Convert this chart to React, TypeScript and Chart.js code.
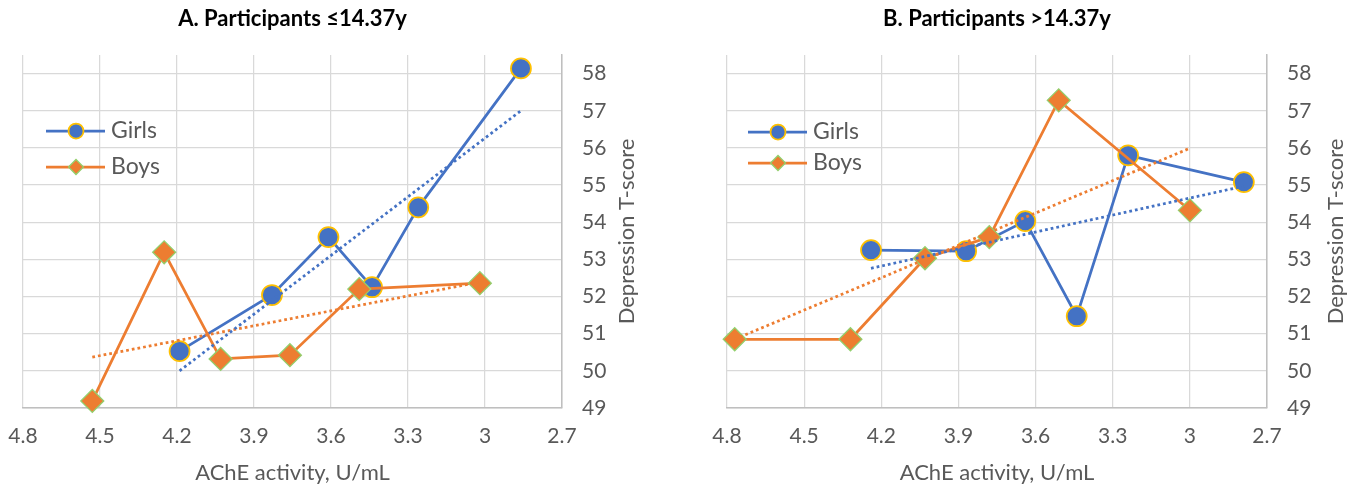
import React, { useEffect, useRef } from 'react';
import { Chart, registerables } from 'chart.js';

Chart.register(...registerables);

const FONT = 'Lato, "Open Sans", sans-serif';

// X tick range (reversed axis) and Y tick range
const xMin = 2.7;
const xMax = 4.8;
const xStep = 0.3;
const yMin = 49;
const yMax = 58.5;
const yStep = 1;

// Panel A: Participants <=14.37y
const girlsAX = [4.19, 3.83, 3.61, 3.44, 3.26, 2.86];
const girlsAY = [50.53, 52.04, 53.6, 52.25, 54.4, 58.14];
const boysAX = [4.53, 4.25, 4.03, 3.76, 3.49, 3.02];
const boysAY = [49.19, 53.19, 50.32, 50.42, 52.2, 52.36];
const girlsTrendAX = [4.19, 2.86];
const girlsTrendAY = [50.0, 57.0];
const boysTrendAX = [4.53, 3.02];
const boysTrendAY = [50.37, 52.39];

// Panel B: Participants >14.37y
const girlsBX = [4.24, 3.87, 3.64, 3.44, 3.24, 2.79];
const girlsBY = [53.25, 53.22, 54.03, 51.47, 55.8, 55.08];
const boysBX = [4.77, 4.32, 4.03, 3.78, 3.51, 3.0];
const boysBY = [50.85, 50.85, 53.03, 53.6, 57.28, 54.32];
const girlsTrendBX = [4.24, 2.79];
const girlsTrendBY = [52.76, 54.97];
const boysTrendBX = [4.77, 3.0];
const boysTrendBY = [50.85, 55.99];

const seriesLabels = ['Girls', 'Boys'];
const xTitle = 'AChE activity, U/mL';
const yTitle = 'Depression T-score';

const BLUE = '#4472C4';
const ORANGE = '#ED7D31';
const GOLD = '#FFC000';
const GREEN = '#92D06E';
const GRID = '#D9D9D9';
const AXIS = '#BFBFBF';
const TEXT = '#595959';

const pts = (xs: number[], ys: number[]) => xs.map((x, i) => ({ x, y: ys[i] }));
const fmt = (v: any) => String(Math.round(Number(v) * 10) / 10);

const overlay = {
  id: 'overlay',
  afterDraw(chart: any, _args: any, opts: any) {
    const { ctx, chartArea } = chart;
    const cx = (chartArea.left + chartArea.right) / 2;
    const cy = (chartArea.top + chartArea.bottom) / 2;
    ctx.save();
    ctx.textAlign = 'center';
    ctx.textBaseline = 'middle';
    ctx.fillStyle = '#000000';
    ctx.font = `bold ${opts.titleSize}px ${FONT}`;
    ctx.fillText(opts.title, cx, opts.titleY);

    ctx.fillStyle = TEXT;
    ctx.font = `${opts.axisSize}px ${FONT}`;
    ctx.fillText(xTitle, cx, opts.xTitleY);
    ctx.save();
    ctx.translate(opts.yTitleX, cy);
    ctx.rotate(-Math.PI / 2);
    ctx.fillText(yTitle, 0, 0);
    ctx.restore();

    // legend
    const ds = chart.data.datasets;
    for (let i = 0; i < 2; i++) {
      const d = ds[i];
      const y = opts.legendY + i * opts.legendGap;
      const x0 = opts.legendX;
      ctx.strokeStyle = d.borderColor;
      ctx.lineWidth = d.borderWidth;
      ctx.beginPath();
      ctx.moveTo(x0, y);
      ctx.lineTo(x0 + 59, y);
      ctx.stroke();
      const mx = x0 + 30;
      const r = 7.5;
      ctx.beginPath();
      if (d.pointStyle === 'circle') {
        ctx.arc(mx, y, r, 0, Math.PI * 2);
      } else {
        ctx.moveTo(mx - r, y);
        ctx.lineTo(mx, y - r);
        ctx.lineTo(mx + r, y);
        ctx.lineTo(mx, y + r);
        ctx.closePath();
      }
      ctx.fillStyle = d.pointBackgroundColor;
      ctx.fill();
      ctx.strokeStyle = d.pointBorderColor;
      ctx.lineWidth = d.pointBorderWidth;
      ctx.stroke();
      ctx.fillStyle = TEXT;
      ctx.font = `${opts.legendSize}px ${FONT}`;
      ctx.textAlign = 'left';
      ctx.fillText(d.label, x0 + 65, y);
    }
    ctx.restore();
  },
};

function makeDatasets(gx: number[], gy: number[], bx: number[], by: number[], gtx: number[], gty: number[], btx: number[], bty: number[]) {
  return [
    {
      label: seriesLabels[0],
      data: pts(gx, gy),
      borderColor: BLUE,
      backgroundColor: BLUE,
      borderWidth: 2.75,
      pointStyle: 'circle',
      pointRadius: 10,
      pointBackgroundColor: BLUE,
      pointBorderColor: GOLD,
      pointBorderWidth: 1.75,
      tension: 0,
      clip: false,
      order: 2,
    },
    {
      label: seriesLabels[1],
      data: pts(bx, by),
      borderColor: ORANGE,
      backgroundColor: ORANGE,
      borderWidth: 2.75,
      pointStyle: 'rectRot',
      pointRadius: 11.5,
      pointBackgroundColor: ORANGE,
      pointBorderColor: GREEN,
      pointBorderWidth: 1.25,
      tension: 0,
      clip: false,
      order: 1,
    },
    {
      label: 'Girls trend',
      data: pts(gtx, gty),
      borderColor: BLUE,
      borderWidth: 2.75,
      borderDash: [2.75, 3],
      pointRadius: 0,
      tension: 0,
      clip: false,
      order: 0,
    },
    {
      label: 'Boys trend',
      data: pts(btx, bty),
      borderColor: ORANGE,
      borderWidth: 2.75,
      borderDash: [2.75, 3],
      pointRadius: 0,
      tension: 0,
      clip: false,
      order: 0,
    },
  ];
}

type PanelProps = {
  left: number;
  width: number;
  padLeft: number;
  yAxisWidth: number;
  title: string;
  yTitleX: number;
  legendX: number;
  legendY: number;
  legendGap: number;
  datasets: any[];
};

function Panel(p: PanelProps) {
  const ref = useRef<HTMLCanvasElement>(null);
  useEffect(() => {
    const tickFont = { family: FONT, size: 21 };
    const chart = new Chart(ref.current as HTMLCanvasElement, {
      type: 'line',
      data: { datasets: p.datasets },
      plugins: [overlay],
      options: {
        animation: false,
        responsive: false,
        devicePixelRatio: 1,
        events: [],
        layout: { padding: { left: p.padLeft, top: 55, right: 0, bottom: 0 } },
        plugins: {
          legend: { display: false },
          title: { display: false },
          tooltip: { enabled: false },
          overlay: {
            title: p.title,
            titleSize: 22,
            titleY: 19,
            axisSize: 22,
            xTitleY: 473,
            yTitleX: p.yTitleX,
            legendX: p.legendX,
            legendY: p.legendY,
            legendGap: p.legendGap,
            legendSize: 23,
          },
        } as any,
        scales: {
          x: {
            type: 'linear',
            reverse: true,
            min: xMin,
            max: xMax,
            bounds: 'data',
            ticks: {
              stepSize: xStep,
              color: TEXT,
              font: tickFont,
              padding: 16,
              maxRotation: 0,
              autoSkip: false,
              callback: fmt,
            },
            grid: { color: GRID, lineWidth: 1.25, drawTicks: false },
            border: { display: true, color: AXIS, width: 1.5 },
            afterFit: (s: any) => {
              s.height = 83;
              s.paddingLeft = 0;
              s.paddingRight = 0;
            },
          },
          y: {
            type: 'linear',
            position: 'right',
            min: yMin,
            max: yMax,
            bounds: 'data',
            ticks: {
              stepSize: yStep,
              includeBounds: false,
              color: TEXT,
              font: tickFont,
              padding: 20,
              callback: fmt,
            },
            grid: { color: GRID, lineWidth: 1.25, drawTicks: false },
            border: { display: true, color: AXIS, width: 1.5 },
            afterFit: (s: any) => {
              s.width = p.yAxisWidth;
              s.paddingTop = 0;
              s.paddingBottom = 0;
            },
          },
        } as any,
      },
    } as any);
    return () => chart.destroy();
  }, []);
  return (
    <canvas
      ref={ref}
      width={p.width}
      height={491}
      style={{ position: 'absolute', left: p.left, top: 0, width: p.width, height: 491 }}
    />
  );
}

export default function App() {
  return (
    <div style={{ position: 'fixed', left: 0, top: 0, width: 1358, height: 491, background: '#ffffff' }}>
      <Panel
        left={0}
        width={679}
        padLeft={23}
        yAxisWidth={117}
        title="A. Participants ≤14.37y"
        yTitleX={627}
        legendX={46}
        legendY={131}
        legendGap={36}
        datasets={makeDatasets(girlsAX, girlsAY, boysAX, boysAY, girlsTrendAX, girlsTrendAY, boysTrendAX, boysTrendAY)}
      />
      <Panel
        left={679}
        width={679}
        padLeft={48}
        yAxisWidth={91}
        title="B. Participants >14.37y"
        yTitleX={657}
        legendX={69}
        legendY={132}
        legendGap={31}
        datasets={makeDatasets(girlsBX, girlsBY, boysBX, boysBY, girlsTrendBX, girlsTrendBY, boysTrendBX, boysTrendBY)}
      />
    </div>
  );
}
